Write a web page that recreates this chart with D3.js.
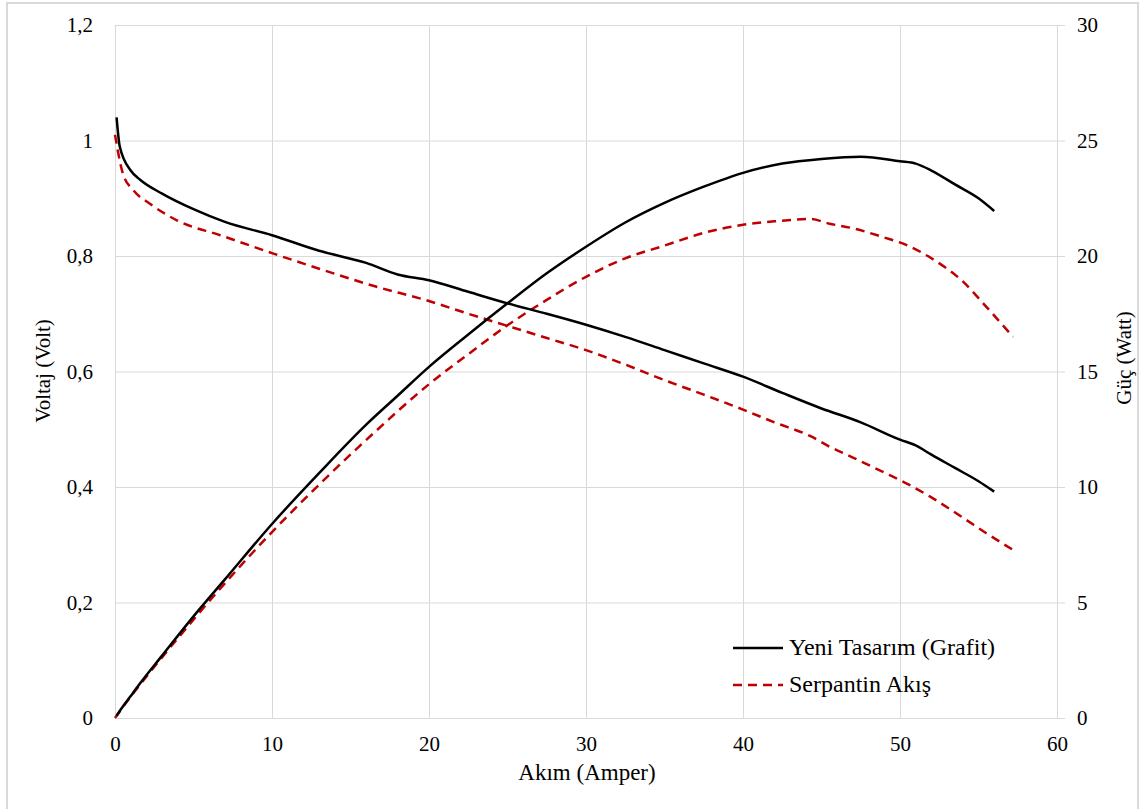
<!DOCTYPE html>
<html>
<head>
<meta charset="utf-8">
<script src="https://cdn.jsdelivr.net/npm/d3@7"></script>
<style>
  body { margin: 0; background: #fff; }
  svg { display: block; }
  text { font-family: "Liberation Serif", "Times New Roman", serif; fill: #000; }
</style>
</head>
<body>
<div id="chart"></div>
<script>
// Yeni Tasarım (Grafit)
const grafitCurrent = [0.1, 0.3, 1, 1.6, 3, 5, 7, 10, 13, 16, 18, 20, 22.5, 25, 27.5, 30, 32.5, 35, 37.5, 40, 42.5, 45, 47.5, 50, 51, 52, 53.5, 55, 56];
const grafitVoltage = [1.04, 0.99, 0.948, 0.932, 0.908, 0.881, 0.859, 0.836, 0.809, 0.788, 0.768, 0.758, 0.738, 0.718, 0.7, 0.681, 0.66, 0.637, 0.614, 0.591, 0.563, 0.536, 0.512, 0.482, 0.472, 0.456, 0.433, 0.41, 0.392];
const grafitPower = [0.1, 0.3, 0.95, 1.5, 2.7, 4.4, 6.0, 8.4, 10.6, 12.7, 13.95, 15.2, 16.6, 17.95, 19.25, 20.4, 21.45, 22.3, 23.0, 23.6, 24.0, 24.2, 24.3, 24.1, 24.0, 23.7, 23.1, 22.5, 21.95];

// Serpantin Akış
const serpCurrent = [0, 0.5, 1.2, 2.2, 4, 6.7, 10, 13, 16.5, 20, 22.5, 25, 27.5, 30, 32.5, 35, 37.5, 40, 42, 44.3, 45.5, 47, 49, 50.5, 52, 54, 55.5, 57.2];
const serpVoltage = [1.01, 0.943, 0.913, 0.891, 0.861, 0.836, 0.805, 0.778, 0.748, 0.722, 0.7, 0.679, 0.658, 0.637, 0.612, 0.585, 0.56, 0.534, 0.512, 0.488, 0.47, 0.451, 0.425, 0.405, 0.382, 0.347, 0.32, 0.291];
const serpPower = [0, 0.47, 1.1, 1.96, 3.45, 5.6, 8.05, 10.1, 12.35, 14.45, 15.75, 17.0, 18.1, 19.1, 19.9, 20.45, 21.0, 21.35, 21.5, 21.6, 21.4, 21.2, 20.8, 20.45, 19.9, 18.9, 17.8, 16.5];

const currentTicks = [0, 10, 20, 30, 40, 50, 60];
const voltTicks = [0, 0.2, 0.4, 0.6, 0.8, 1, 1.2];
const powerTicks = [0, 5, 10, 15, 20, 25, 30];

const width = 1141, height = 809;
const plotLeft = 115, plotRight = 1057, plotTop = 25, plotBottom = 718;
const serif = '"Liberation Serif", "Times New Roman", serif';

const svg = d3.select('#chart').append('svg')
  .attr('width', width)
  .attr('height', height)
  .style('font-family', serif);

// outer frame
svg.append('rect')
  .attr('x', 7).attr('y', 3)
  .attr('width', 1131).attr('height', 815)
  .attr('fill', 'none')
  .attr('stroke', '#d9d9d9')
  .attr('stroke-width', 2);

const x = d3.scaleLinear().domain([0, 60]).range([plotLeft, plotRight]);
const yV = d3.scaleLinear().domain([0, 1.2]).range([plotBottom, plotTop]);
const yP = d3.scaleLinear().domain([0, 30]).range([plotBottom, plotTop]);

const comma = d3.formatLocale({ decimal: ',', thousands: '.', grouping: [3], currency: ['', ''] }).format('~g');

// vertical grid
svg.append('g')
  .attr('transform', `translate(0,${plotBottom})`)
  .call(d3.axisBottom(x).tickValues(currentTicks).tickSize(-(plotBottom - plotTop)).tickFormat(''))
  .call(g => g.select('.domain').remove())
  .call(g => g.selectAll('line').attr('stroke', '#d9d9d9'));

// horizontal grid (extends over the secondary axis ticks)
svg.append('g')
  .attr('transform', `translate(${plotLeft},0)`)
  .call(d3.axisRight(yV).tickValues(voltTicks).tickSize(1065 - plotLeft).tickFormat(''))
  .call(g => g.select('.domain').remove())
  .call(g => g.selectAll('line').attr('stroke', '#d9d9d9'));

// axis labels
const labelStyle = g => {
  g.attr('font-family', serif).attr('font-size', 21);
  g.selectAll('text').attr('fill', '#000');
};

svg.append('g')
  .attr('transform', `translate(0,${plotBottom})`)
  .call(d3.axisBottom(x).tickValues(currentTicks).tickSize(0).tickPadding(18).tickFormat(d3.format('d')))
  .call(g => g.select('.domain').remove())
  .call(labelStyle);

svg.append('g')
  .attr('transform', `translate(${plotLeft},0)`)
  .call(d3.axisLeft(yV).tickValues(voltTicks).tickSize(0).tickPadding(22).tickFormat(comma))
  .call(g => g.select('.domain').remove())
  .call(labelStyle);

svg.append('g')
  .attr('transform', `translate(${plotRight},0)`)
  .call(d3.axisRight(yP).tickValues(powerTicks).tickSize(0).tickPadding(20).tickFormat(d3.format('d')))
  .call(g => g.select('.domain').remove())
  .call(labelStyle);

// titles
svg.append('text')
  .attr('x', 587).attr('y', 780)
  .attr('text-anchor', 'middle')
  .attr('font-size', 23)
  .text('Akım (Amper)');

svg.append('text')
  .attr('transform', `translate(50,371) rotate(-90)`)
  .attr('text-anchor', 'middle')
  .attr('font-size', 21)
  .text('Voltaj (Volt)');

svg.append('text')
  .attr('transform', `translate(1131,358) rotate(-90)`)
  .attr('text-anchor', 'middle')
  .attr('font-size', 21)
  .text('Güç (Watt)');

// curves
const curve = d3.curveMonotoneX;
const lineV = d3.line().x(d => x(d[0])).y(d => yV(d[1])).curve(curve);
const lineP = d3.line().x(d => x(d[0])).y(d => yP(d[1])).curve(curve);

const series = [
  { current: serpCurrent, volt: serpVoltage, power: serpPower, color: '#c00000', dash: '9,6' },
  { current: grafitCurrent, volt: grafitVoltage, power: grafitPower, color: '#000', dash: null }
];

series.forEach(s => {
  const vData = s.current.map((c, i) => [c, s.volt[i]]);
  const pData = s.current.map((c, i) => [c, s.power[i]]);
  [lineV(vData), lineP(pData)].forEach(d => {
    svg.append('path')
      .attr('d', d)
      .attr('fill', 'none')
      .attr('stroke', s.color)
      .attr('stroke-width', 2.5)
      .attr('stroke-dasharray', s.dash);
  });
});

// legend
const legendItems = [
  { label: 'Yeni Tasarım (Grafit)', color: '#000', dash: null },
  { label: 'Serpantin Akış', color: '#c00000', dash: '9,6' }
];

const legend = svg.append('g');
legendItems.forEach((item, i) => {
  const ly = 648 + i * 37;
  legend.append('line')
    .attr('x1', 733).attr('x2', 783)
    .attr('y1', ly).attr('y2', ly)
    .attr('stroke', item.color)
    .attr('stroke-width', 2.5)
    .attr('stroke-dasharray', item.dash);
  legend.append('text')
    .attr('x', 789).attr('y', ly + 7)
    .attr('font-size', 24)
    .text(item.label);
});
</script>
</body>
</html>
